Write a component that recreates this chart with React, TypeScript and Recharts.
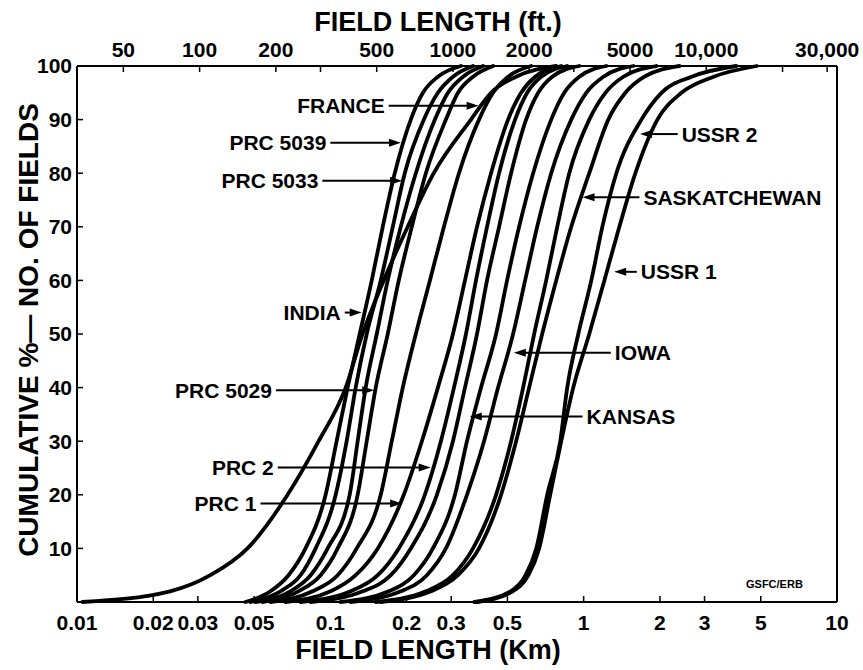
import React from "react";
import { LineChart, Line, XAxis, YAxis, ReferenceLine } from "recharts";

const PCT = [0, 2, 5, 10, 20, 30, 40, 50, 60, 70, 80, 90, 95, 98, 100];

// field length (km) of each curve at the PCT levels above
const INDIA_KM = [0.0105, 0.0233, 0.0336, 0.0471, 0.0678, 0.0899, 0.115, 0.134, 0.1625, 0.202, 0.256, 0.359, 0.431, 0.541, 0.779];
const PRC5039_KM = [0.0462, 0.058, 0.0684, 0.0798, 0.0958, 0.1059, 0.117, 0.1306, 0.1457, 0.161, 0.1796, 0.2078, 0.2319, 0.2658, 0.3278];
const PRC5033_KM = [0.0484, 0.0636, 0.0763, 0.0875, 0.105, 0.116, 0.1259, 0.1392, 0.1581, 0.1764, 0.1967, 0.234, 0.2658, 0.3048, 0.3657];
const CURVE_C_KM = [0.0506, 0.0696, 0.0836, 0.0976, 0.1192, 0.1282, 0.1379, 0.1525, 0.1685, 0.1897, 0.2175, 0.2587, 0.2912, 0.3338, 0.4006];
const PRC5029_KM = [0.054, 0.0749, 0.0915, 0.1069, 0.1282, 0.1392, 0.1511, 0.1685, 0.1863, 0.2097, 0.2383, 0.2859, 0.319, 0.3657, 0.4388];
const CURVE_E_KM = [0.058, 0.0851, 0.1069, 0.1271, 0.1581, 0.1748, 0.1932, 0.2175, 0.2472, 0.2808, 0.3219, 0.3862, 0.4388, 0.5031, 0.6204];
const PRC1_KM = [0.0665, 0.1003, 0.1259, 0.1539, 0.195, 0.2298, 0.2658, 0.3048, 0.34, 0.3793, 0.4309, 0.5031, 0.5664, 0.6434, 0.8155];
const PRC2_KM = [0.0763, 0.1203, 0.1539, 0.1863, 0.2361, 0.2732, 0.3076, 0.3431, 0.3758, 0.4155, 0.4635, 0.5362, 0.5982, 0.6796, 0.8613];
const CURVE_H_KM = [0.0836, 0.1342, 0.1732, 0.2078, 0.2634, 0.3048, 0.34, 0.3793, 0.4155, 0.4635, 0.517, 0.5928, 0.6613, 0.7513, 0.9608];
const KANSAS_KM = [0.1098, 0.1701, 0.2136, 0.254, 0.3104, 0.3462, 0.3934, 0.451, 0.4985, 0.5561, 0.6318, 0.7445, 0.8381, 0.9608, 1.229];
const IOWA_KM = [0.1203, 0.1897, 0.2405, 0.2859, 0.3462, 0.4043, 0.4593, 0.5265, 0.5874, 0.6553, 0.7445, 0.8933, 1.024, 1.196, 1.571];
const CURVE_X_KM = [0.1511, 0.2383, 0.3048, 0.3657, 0.451, 0.517, 0.5768, 0.6376, 0.7113, 0.7863, 0.8772, 1.052, 1.218, 1.435, 1.937];
const SASK_KM = [0.1581, 0.2494, 0.319, 0.3862, 0.472, 0.5411, 0.6092, 0.6858, 0.7792, 0.8933, 1.052, 1.251, 1.461, 1.737, 2.389];
const USSR2_KM = [0.37, 0.515, 0.59, 0.65, 0.7178, 0.8082, 0.8613, 0.9522, 1.072, 1.185, 1.346, 1.69, 2.028, 2.67, 4.0];
const USSR1_KM = [0.38, 0.525, 0.605, 0.6673, 0.7377, 0.8155, 0.9097, 1.052, 1.207, 1.383, 1.6, 1.955, 2.433, 3.258, 4.82];

const CURVES = [
  INDIA_KM, PRC5039_KM, PRC5033_KM, CURVE_C_KM, PRC5029_KM, CURVE_E_KM, PRC1_KM, PRC2_KM,
  CURVE_H_KM, KANSAS_KM, IOWA_KM, CURVE_X_KM, SASK_KM, USSR2_KM, USSR1_KM,
];

const KM_TICKS = [0.01, 0.02, 0.03, 0.05, 0.1, 0.2, 0.3, 0.5, 1, 2, 3, 5, 10];
const FT_RANGE = [32.808, 32808]; // 0.01 km and 10 km in feet
const FT_TICKS = [50, 100, 200, 300, 500, 1000, 2000, 3000, 5000, 10000, 20000, 30000];
const FT_LABELS: Record<number, string> = {
  50: "50", 100: "100", 200: "200", 500: "500", 1000: "1000", 2000: "2000",
  5000: "5000", 10000: "10,000", 30000: "30,000",
};
const PCT_TICKS = [10, 20, 30, 40, 50, 60, 70, 80, 90, 100];

// name, arrow tail (km), arrow tip (km), level (%), side the text sits on
const NOTES: [string, number, number, number, "left" | "right"][] = [
  ["FRANCE", 0.17, 0.385, 92.6, "left"],
  ["PRC 5039", 0.1, 0.19, 85.7, "left"],
  ["PRC 5033", 0.093, 0.192, 78.6, "left"],
  ["INDIA", 0.114, 0.133, 54, "left"],
  ["PRC 5029", 0.061, 0.149, 39.5, "left"],
  ["PRC 2", 0.062, 0.249, 25.1, "left"],
  ["PRC 1", 0.053, 0.192, 18.4, "left"],
  ["IOWA", 1.28, 0.53, 46.5, "right"],
  ["KANSAS", 0.99, 0.355, 34.6, "right"],
  ["SASKATCHEWAN", 1.66, 0.99, 75.5, "right"],
  ["USSR 2", 2.35, 1.67, 87.3, "right"],
  ["USSR 1", 1.62, 1.32, 61.6, "right"],
];

const FONT = "'Liberation Sans', Arial, sans-serif";
const tickStyle = { fill: "#000", fontSize: 21, fontWeight: 700, fontFamily: FONT };
const axisLine = { stroke: "#000", strokeWidth: 2 };
const tickLine = { stroke: "#000", strokeWidth: 1.5 };

const Arrow = (p: any) => {
  const { x1, y1, x2, y2 } = p;
  const d = Math.sign(x2 - x1);
  return (
    <g>
      <line x1={x1} y1={y1} x2={x2 - d * 8} y2={y2} stroke="#000" strokeWidth={2} />
      <polygon points={`${x2},${y2} ${x2 - d * 12},${y2 - 4} ${x2 - d * 12},${y2 + 4}`} fill="#000" />
    </g>
  );
};

const titleStyle: React.CSSProperties = {
  position: "absolute", textAlign: "center", fontFamily: FONT, fontSize: 27, fontWeight: 700, whiteSpace: "nowrap",
};

export default function App() {
  return (
    <div style={{ position: "absolute", left: 0, top: 0, width: 863, height: 670, background: "#fff" }}>
      <LineChart width={863} height={670} margin={{ top: 36, right: 26, bottom: 38, left: 37 }}>
        <XAxis
          dataKey="km" type="number" scale="log" domain={[0.01, 10]} allowDataOverflow
          ticks={KM_TICKS} interval={0} tickFormatter={(v) => String(v)}
          height={30} tickSize={-6} tickMargin={19}
          axisLine={axisLine} tickLine={tickLine} tick={tickStyle}
        />
        <XAxis
          xAxisId="ft" dataKey="ft" orientation="top" type="number" scale="log" domain={FT_RANGE} allowDataOverflow
          ticks={FT_TICKS} interval={0} tickFormatter={(v) => FT_LABELS[v] ?? ""}
          height={30} tickSize={-6} tickMargin={15}
          axisLine={axisLine} tickLine={tickLine} tick={tickStyle}
        />
        <YAxis
          type="number" domain={[0, 100]} ticks={PCT_TICKS} interval={0} width={40}
          tickSize={-6} tickMargin={11}
          axisLine={axisLine} tickLine={tickLine} tick={tickStyle}
        />
        <ReferenceLine x={10} stroke="#000" strokeWidth={2} />
        {/* invisible series that carries the feet axis */}
        <Line
          xAxisId="ft"
          data={FT_RANGE.map((ft) => ({ ft, pct: 100 }))}
          dataKey="pct" stroke="none" dot={false} activeDot={false} isAnimationActive={false}
        />
        {CURVES.map((km, i) => (
          <Line
            key={i}
            data={PCT.map((p, j) => ({ km: km[j], pct: p }))}
            dataKey="pct" type="monotone" stroke="#000" strokeWidth={3.8} strokeLinecap="round"
            dot={false} activeDot={false} isAnimationActive={false}
          />
        ))}
        {NOTES.map(([name, from, to, y, side]) => (
          <ReferenceLine
            key={name}
            segment={[{ x: from, y }, { x: to, y }]}
            shape={Arrow}
            label={{ value: name, position: side, offset: 4, fill: "#000", fontSize: 21, fontWeight: 700, fontFamily: FONT }}
          />
        ))}
      </LineChart>
      <div style={{ ...titleStyle, left: 438, top: 7, transform: "translateX(-50%)" }}>FIELD LENGTH (ft.)</div>
      <div style={{ ...titleStyle, left: 428, top: 635, transform: "translateX(-50%)" }}>FIELD LENGTH (Km)</div>
      <div style={{ ...titleStyle, left: 29, top: 330, fontSize: 28, transform: "translate(-50%, -50%) rotate(-90deg)" }}>
        CUMULATIVE %— NO. OF FIELDS
      </div>
      <div style={{ position: "absolute", left: 746, top: 578, fontFamily: FONT, fontSize: 11, fontWeight: 700 }}>
        GSFC/ERB
      </div>
    </div>
  );
}
